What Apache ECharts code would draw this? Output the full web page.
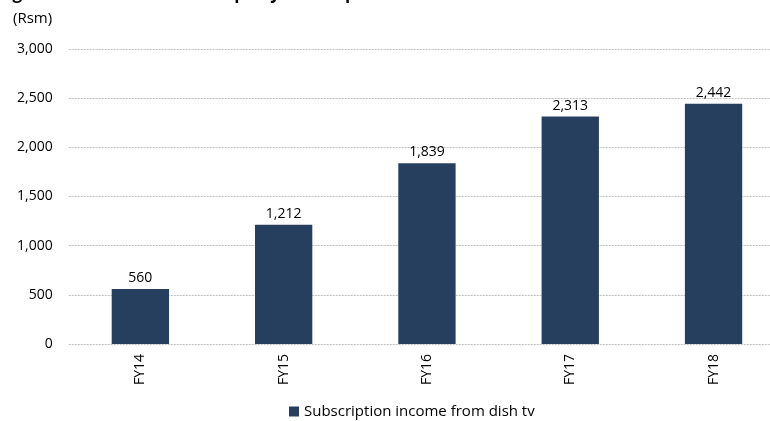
<!DOCTYPE html>
<html><head><meta charset="utf-8">
<script src="https://cdn.jsdelivr.net/npm/echarts@6/dist/echarts.min.js"></script>
<style>html,body{margin:0;padding:0;background:#fff}#c{width:770px;height:421px}</style>
</head><body><div id="c"></div>
<script>
const categories = ['FY14','FY15','FY16','FY17','FY18'];
const seriesName = 'Subscription income from dish tv';
const values = [560, 1212, 1839, 2313, 2442];
const yTicks = [0, 500, 1000, 1500, 2000, 2500, 3000];
const unitLabel = '(Rsm)';
const titleText = 'Figure 3: Income from third party subscription';

const font = '"Open Sans", "Noto Sans", sans-serif';
const chart = echarts.init(document.getElementById('c'), null, {renderer:'canvas'});
chart.setOption({
  animation: false,
  graphic: [
    {type:'text', left: -2, top: -14, style:{text: titleText, font: 'bold 17px ' + font, fill:'#000'}},
    {type:'text', left: 13, top: 11, style:{text: unitLabel, font: '15px ' + font, fill:'#000'}}
  ],
  legend: {
    bottom: -3, left: 284, itemWidth: 10, itemHeight: 10, itemGap: 5, icon: 'rect',
    textStyle: {fontFamily: font, fontSize: 15, color: '#000'},
    data: [seriesName]
  },
  grid: {left: 68.7, width: 716.5, top: 49, bottom: 77, containLabel: false, outerBoundsMode: 'none'},
  xAxis: {
    type: 'category', data: categories,
    axisLine: {show: false}, axisTick: {show: false},
    axisLabel: {rotate: 90, margin: 10, fontFamily: font, fontSize: 14, color: '#000'}
  },
  yAxis: {
    type: 'value', min: yTicks[0], max: yTicks[yTicks.length-1], interval: 500,
    axisLine: {show: false}, axisTick: {show: false},
    axisLabel: {fontFamily: font, fontSize: 14, color: '#000', margin: 16,
      formatter: v => v.toLocaleString('en-US')},
    splitLine: {lineStyle: {type: [2, 1], color: '#bfbfbf', width: 1}}
  },
  series: [{
    name: seriesName, type: 'bar', data: values, barWidth: '40%',
    itemStyle: {color: '#263f5f'},
    label: {show: true, position: 'top', distance: 4, fontFamily: font, fontSize: 14, color: '#000',
      formatter: p => p.value.toLocaleString('en-US')}
  }]
});
</script></body></html>
